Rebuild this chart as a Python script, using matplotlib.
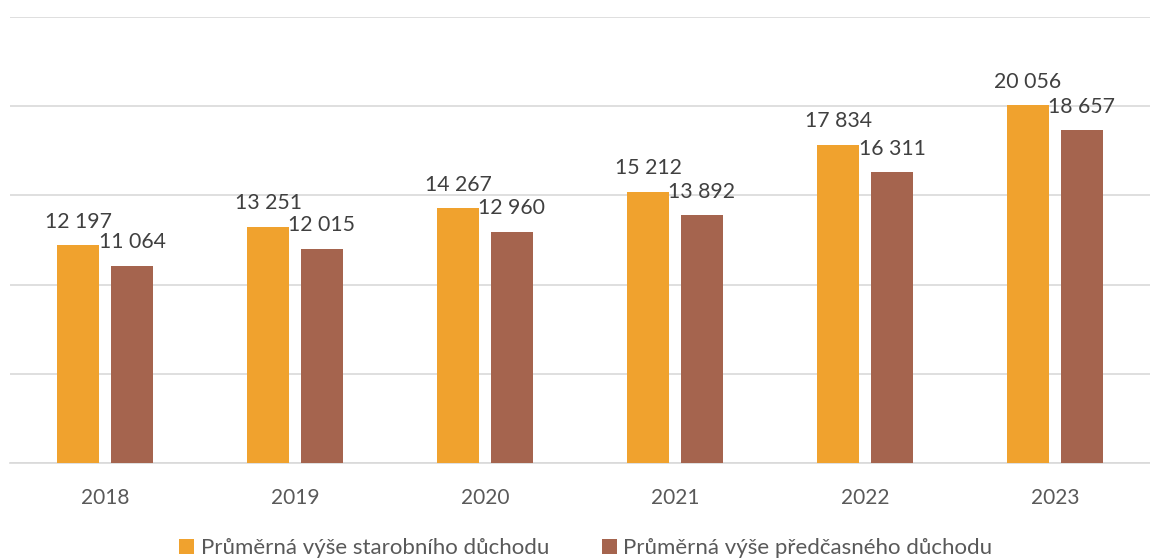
import matplotlib
matplotlib.use("Agg")
import matplotlib.pyplot as plt
import numpy as np

years = ["2018", "2019", "2020", "2021", "2022", "2023"]
starobni = [12197, 13251, 14267, 15212, 17834, 20056]
predcasny = [11064, 12015, 12960, 13892, 16311, 18657]
series_names = ["Průměrná výše starobního důchodu", "Průměrná výše předčasného důchodu"]
colors = ["#F0A22E", "#A5644E"]

plt.rcParams['font.family'] = ['Lato', 'DejaVu Sans']

fig = plt.figure(figsize=(11.5, 5.59), dpi=100)
ax = fig.add_axes([10/1150, 1-463/559, 1140/1150, (463-17)/559])

x = np.arange(len(years))
w = 0.226
off = 0.142

def fmt(v):
    return f"{v:,}".replace(",", " ")

for vals, o, c, name in [(starobni, -off, colors[0], series_names[0]),
                         (predcasny, off, colors[1], series_names[1])]:
    bars = ax.bar(x + o, vals, width=w, color=c, label=name, zorder=3)
    for b, v in zip(bars, vals):
        ax.text(b.get_x() + b.get_width()/2, v + 750, fmt(v), ha='center', va='bottom',
                fontsize=15.3, color='#404040', zorder=4)

ax.set_xlim(-0.5, len(years) - 0.5)
ax.set_ylim(0, 25000)
ax.set_yticks(np.arange(0, 25001, 5000))
ax.yaxis.grid(True, color='#D9D9D9', linewidth=1.2, zorder=0)
ax.set_yticklabels([])
ax.tick_params(axis='y', length=0)
ax.set_xticks(x)
ax.set_xticklabels(years, fontsize=15, color='#595959')
ax.tick_params(axis='x', length=0, pad=18)
for s in ['top', 'right', 'left']:
    ax.spines[s].set_visible(False)
ax.spines['bottom'].set_color('#D9D9D9')
ax.spines['bottom'].set_linewidth(1.2)

leg = fig.legend(loc='center', bbox_to_anchor=(586/1150, 1-548/559), ncol=2, frameon=False,
                 fontsize=16, handlelength=0.65, handleheight=0.65, handletextpad=0.3,
                 columnspacing=2.4, labelcolor='#595959')

fig.savefig("out.png", dpi=100)
